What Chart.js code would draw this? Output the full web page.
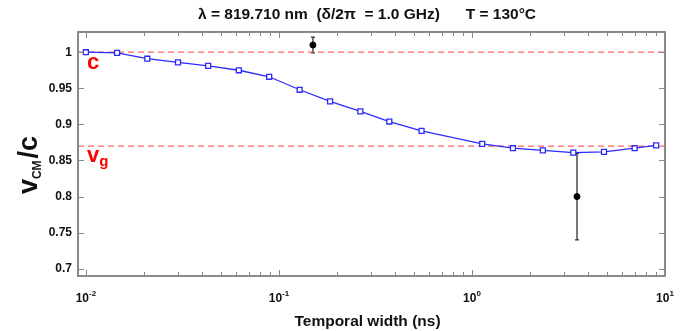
<!DOCTYPE html>
<html>
<head>
<meta charset="utf-8">
<script src="https://cdn.jsdelivr.net/npm/chart.js@4.4.0/dist/chart.umd.min.js"></script>
<style>
  html, body { margin: 0; padding: 0; background: #fff; }
  #wrap { width: 694px; height: 331px; }
</style>
</head>
<body>
<div id="wrap"><canvas id="chart" width="694" height="331"></canvas></div>
<script>
// ---------- DATA ----------
const widthNs  = [0.01, 0.0145, 0.0208, 0.030, 0.043, 0.062, 0.089, 0.128, 0.184, 0.264, 0.373, 0.548, 1.13, 1.63, 2.33, 3.35, 4.83, 6.96, 9.0];
const vcmOverC = [1.000, 0.999, 0.991, 0.986, 0.981, 0.975, 0.966, 0.948, 0.932, 0.918, 0.904, 0.891, 0.873, 0.867, 0.864, 0.861, 0.862, 0.867, 0.871];

// measured points with error bars
const measWidth = [0.15, 3.5];
const measValue = [1.010, 0.800];
const measErr   = [0.011, 0.060];

// reference levels: c and v_g
const refLevels = [1.0, 0.87];

const xMajorTicks = [0.01, 0.1, 1, 10];
const xTickExp    = ["-2", "-1", "0", "1"];
const yTicks      = [0.7, 0.75, 0.8, 0.85, 0.9, 0.95, 1];
const yTickLabels = ["0.7", "0.75", "0.8", "0.85", "0.9", "0.95", "1"];

const X_MIN = 0.0091, X_MAX = 10;
const Y_MIN = 0.69, Y_MAX = 1.028;

const FONT = '"Liberation Sans", Arial, Helvetica, sans-serif';

// ---------- PLUGINS ----------
const errorBars = {
  id: "errorBars",
  beforeDatasetsDraw(chart) {
    const { ctx, scales: { x, y } } = chart;
    ctx.save();
    ctx.strokeStyle = "#333";
    ctx.lineWidth = 1.3;
    measWidth.forEach((w, i) => {
      const px = x.getPixelForValue(w);
      const top = y.getPixelForValue(measValue[i] + measErr[i]);
      const bot = y.getPixelForValue(measValue[i] - measErr[i]);
      ctx.beginPath();
      ctx.moveTo(px, top); ctx.lineTo(px, bot);
      ctx.moveTo(px - 2, top); ctx.lineTo(px + 2, top);
      ctx.moveTo(px - 2, bot); ctx.lineTo(px + 2, bot);
      ctx.stroke();
    });
    ctx.restore();
  }
};

const frameAndText = {
  id: "frameAndText",
  afterDraw(chart) {
    const { ctx, chartArea: a, scales: { x, y } } = chart;
    ctx.save();

    // frame
    ctx.strokeStyle = "#8a8a8a";
    ctx.lineWidth = 2;
    ctx.strokeRect(a.left, a.top, a.right - a.left, a.bottom - a.top);

    // x ticks (inside, top and bottom)
    ctx.lineWidth = 1;
    ctx.beginPath();
    for (let d = -2; d <= 0; d++) {
      for (let m = 1; m <= 9; m++) {
        const v = m * Math.pow(10, d);
        if (v < X_MIN || v > X_MAX) continue;
        const px = Math.round(x.getPixelForValue(v)) + 0.5;
        const len = m === 1 ? 6 : 4;
        ctx.moveTo(px, a.bottom); ctx.lineTo(px, a.bottom - len);
        ctx.moveTo(px, a.top); ctx.lineTo(px, a.top + len);
      }
    }
    yTicks.forEach(v => {
      const py = Math.round(y.getPixelForValue(v)) + 0.5;
      ctx.moveTo(a.left, py); ctx.lineTo(a.left + 6, py);
      ctx.moveTo(a.right, py); ctx.lineTo(a.right - 6, py);
    });
    ctx.stroke();

    // y tick labels
    ctx.fillStyle = "#111";
    ctx.font = "bold 12px " + FONT;
    ctx.textAlign = "right";
    ctx.textBaseline = "middle";
    yTicks.forEach((v, i) => {
      ctx.fillText(yTickLabels[i], a.left - 6, y.getPixelForValue(v));
    });

    // x tick labels 10^n
    ctx.textBaseline = "alphabetic";
    ctx.textAlign = "left";
    xMajorTicks.forEach((v, i) => {
      const px = x.getPixelForValue(v);
      ctx.font = "bold 12px " + FONT;
      const w1 = ctx.measureText("10").width;
      ctx.font = "bold 8px " + FONT;
      const w2 = ctx.measureText(xTickExp[i]).width;
      const x0 = px - (w1 + w2) / 2;
      ctx.font = "bold 12px " + FONT;
      ctx.fillText("10", x0, a.bottom + 26);
      ctx.font = "bold 8px " + FONT;
      ctx.fillText(xTickExp[i], x0 + w1, a.bottom + 20);
    });

    // x title
    ctx.textAlign = "center";
    ctx.font = "bold 15.5px " + FONT;
    ctx.fillText("Temporal width (ns)", (a.left + a.right) / 2 - 4, 326);

    // title
    ctx.font = "bold 15.5px " + FONT;
    ctx.fillText("\u03bb = 819.710 nm  (\u03b4/2\u03c0  = 1.0 GHz)      T = 130\u00b0C", 367, 19);

    // y title: v_CM / c (rotated)
    ctx.translate(37, 165);
    ctx.rotate(-Math.PI / 2);
    ctx.textAlign = "left";
    const big = "bold 27px " + FONT, small = "bold 12px " + FONT;
    ctx.font = big; const wv = ctx.measureText("v").width;
    ctx.font = small; const wcm = ctx.measureText("CM").width;
    ctx.font = big; const wc = ctx.measureText("/c").width;
    let tx = -(wv + wcm + 2 + wc) / 2;
    ctx.font = big; ctx.fillText("v", tx, 0); tx += wv;
    ctx.font = small; ctx.fillText("CM", tx, 4); tx += wcm + 2;
    ctx.font = big; ctx.fillText("/c", tx, 0);
    ctx.setTransform(1, 0, 0, 1, 0, 0);

    // red labels c and v_g
    ctx.fillStyle = "#ff0000";
    ctx.textAlign = "left";
    ctx.font = "bold 22px " + FONT;
    ctx.fillText("c", a.left + 9, y.getPixelForValue(refLevels[0]) + 17);
    const vy = y.getPixelForValue(refLevels[1]) + 16;
    ctx.fillText("v", a.left + 9, vy);
    const wvg = ctx.measureText("v").width;
    ctx.font = "bold 15px " + FONT;
    ctx.fillText("g", a.left + 9 + wvg, vy + 4);

    ctx.restore();
  }
};

// ---------- CHART ----------
const dashedLine = level => ({
  data: [{ x: X_MIN, y: level }, { x: X_MAX, y: level }],
  borderColor: "rgba(255, 70, 70, 0.85)",
  borderWidth: 1.3,
  borderDash: [6, 4],
  pointRadius: 0
});

new Chart(document.getElementById("chart"), {
  type: "line",
  data: {
    datasets: [
      {
        data: widthNs.map((w, i) => ({ x: w, y: vcmOverC[i] })),
        borderColor: "#2a2aff",
        borderWidth: 1.3,
        pointStyle: "rect",
        pointRadius: 3.5,
        pointBackgroundColor: "#ffffff",
        pointBorderColor: "#2a2aff",
        pointBorderWidth: 1.3,
        tension: 0
      },
      {
        data: measWidth.map((w, i) => ({ x: w, y: measValue[i] })),
        showLine: false,
        pointRadius: 3,
        pointBackgroundColor: "#000",
        pointBorderColor: "#000"
      },
      dashedLine(refLevels[0]),
      dashedLine(refLevels[1])
    ]
  },
  options: {
    responsive: false,
    animation: false,
    layout: { padding: { left: 78, right: 29, top: 32, bottom: 55 } },
    plugins: { legend: { display: false }, tooltip: { enabled: false } },
    scales: {
      x: { type: "logarithmic", min: X_MIN, max: X_MAX, display: false },
      y: { type: "linear", min: Y_MIN, max: Y_MAX, display: false }
    }
  },
  plugins: [errorBars, frameAndText]
});
</script>
</body>
</html>
